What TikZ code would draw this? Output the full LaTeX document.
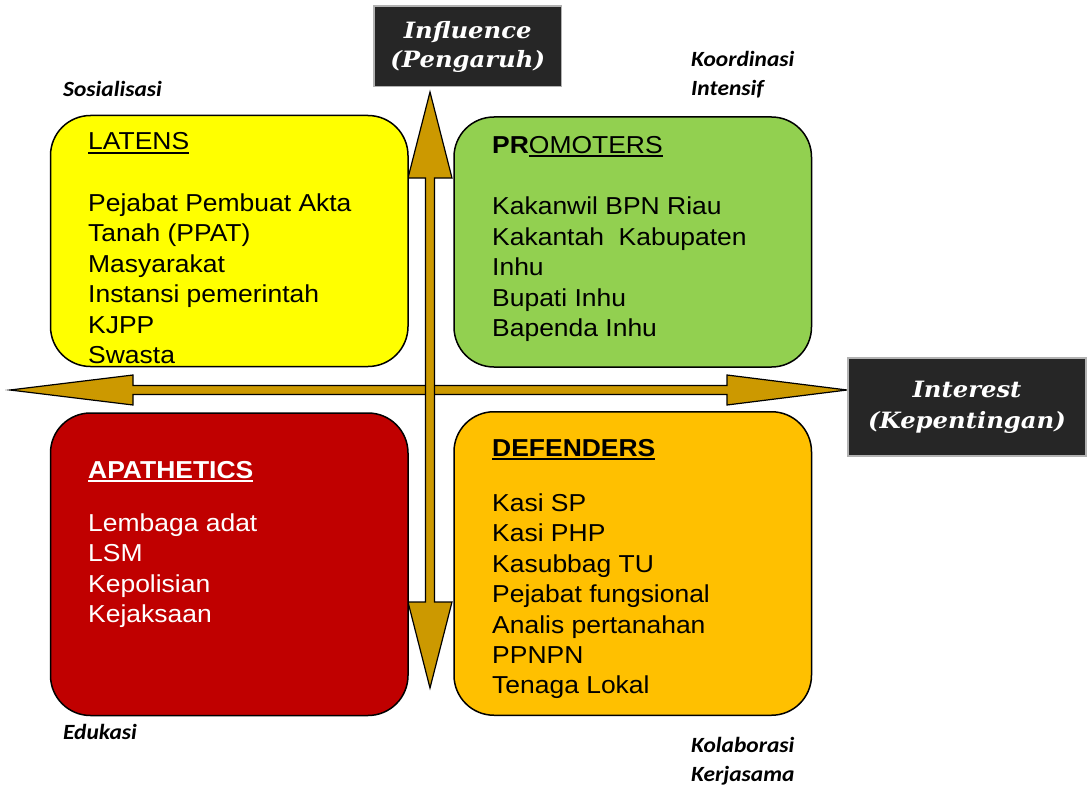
\documentclass[tikz,border=0pt]{standalone}
\usepackage{fontspec}
\setmainfont{Liberation Sans}[FakeStretch=1.08]
\newfontfamily\sidefam{Carlito}[FakeStretch=1.08]
\newfontfamily\headfam{DejaVu Serif}[FakeStretch=1.08]
\newcommand\quadfont{\fontsize{24.5}{30.4}\selectfont}
\newcommand\sidefont{\sidefam\bfseries\itshape\fontsize{21.7}{29}\selectfont}
\newcommand\headfont{\headfam\bfseries\itshape\fontsize{22.5}{29}\selectfont}
\newcommand\myul[1]{\setbox0\hbox{#1}\rlap{\rule[-3.8pt]{\wd0}{2pt}}\box0}
\definecolor{qyellow}{HTML}{FFFF00}
\definecolor{qgreen}{HTML}{92D050}
\definecolor{qred}{HTML}{C00000}
\definecolor{qorange}{HTML}{FFC000}
\definecolor{qgold}{HTML}{CC9900}
\definecolor{qdark}{HTML}{262626}
\tikzset{
  quad/.style={draw=black, line width=1.5pt, rounded corners=40pt, inner sep=0pt},
  quadtext/.style={anchor=north west, inner sep=0pt, align=left, font=\quadfont},
  darkbox/.style={draw=gray!60, line width=1.5pt, fill=qdark, text=white, align=center, font=\headfont, inner sep=0pt},
  side/.style={font=\sidefont, anchor=base west, inner sep=0pt, align=left},
  blockarrow/.style={fill=qgold, draw=black, line width=1.2pt, line join=miter}
}
\begin{document}
\begin{tikzpicture}[x=1pt,y=-1pt]
\useasboundingbox[fill=white] (0,0) rectangle (1087,789);

% block arrows
\coordinate (wtip) at (10,390);
\coordinate (etip) at (847,390);
\coordinate (ntip) at (430,92);
\coordinate (stip) at (430,688);
\draw[blockarrow] (wtip) -- (133,375) -- (133,385.5) -- (727,385.5) -- (727,375) -- (etip)
  -- (727,405) -- (727,394.5) -- (133,394.5) -- (133,405) -- cycle;
\draw[blockarrow] (ntip) -- (452,178) -- (434.5,178) -- (434.5,602) -- (452,602) -- (stip)
  -- (408,602) -- (425.5,602) -- (425.5,178) -- (408,178) -- cycle;

% quadrant boxes
\node[quad, fill=qyellow, minimum width=357.5pt, minimum height=251pt] (latens) at (229.25,241) {};
\node[quad, fill=qgreen, minimum width=357.5pt, minimum height=250pt] (promoters) at (632.75,242) {};
\node[quad, fill=qred, minimum width=357.5pt, minimum height=302.5pt] (apathetics) at (229.25,564.25) {};
\node[quad, fill=qorange, minimum width=357.5pt, minimum height=303.5pt] (defenders) at (632.75,563.5) {};

% quadrant texts
\node[quadtext] (latenstxt) at (88,132.5) {\myul{LATENS}\\[31.3pt]
  Pejabat Pembuat Akta\\Tanah (PPAT)\\Masyarakat\\Instansi pemerintah\\KJPP\\Swasta};
\node[quadtext] (promoterstxt) at (492,135.8) {\textbf{PR}\myul{OMOTERS}\\[31.3pt]
  Kakanwil BPN Riau\\Kakantah\ \ Kabupaten\\Inhu\\Bupati Inhu\\Bapenda Inhu};
\node[quadtext, text=white] (apatheticstxt) at (88,460.8) {\myul{\textbf{APATHETICS}}\\[22.9pt]
  Lembaga adat\\LSM\\Kepolisian\\Kejaksaan};
\node[quadtext] (defenderstxt) at (492,439.2) {\myul{\textbf{DEFENDERS}}\\[24.6pt]
  Kasi SP\\Kasi PHP\\Kasubbag TU\\Pejabat fungsional\\Analis pertanahan\\PPNPN\\Tenaga Lokal};

% axis labels
\node[darkbox, minimum width=187.5pt, minimum height=80.5pt] (influence) at (467.75,46.5) {Influence\\(Pengaruh)};
\node[darkbox, minimum width=238pt, minimum height=98pt] (interest) at (967,407) {Interest\\[2pt](Kepentingan)};

% side labels (base = last line)
\node[side] (sosialisasi) at (63,97) {Sosialisasi};
\node[side] (koordinasi) at (691,95.5) {Koordinasi\\Intensif};
\node[side] (edukasi) at (63,739) {Edukasi};
\node[side] (kolaborasi) at (691,781) {Kolaborasi\\Kerjasama};
\end{tikzpicture}
\end{document}
